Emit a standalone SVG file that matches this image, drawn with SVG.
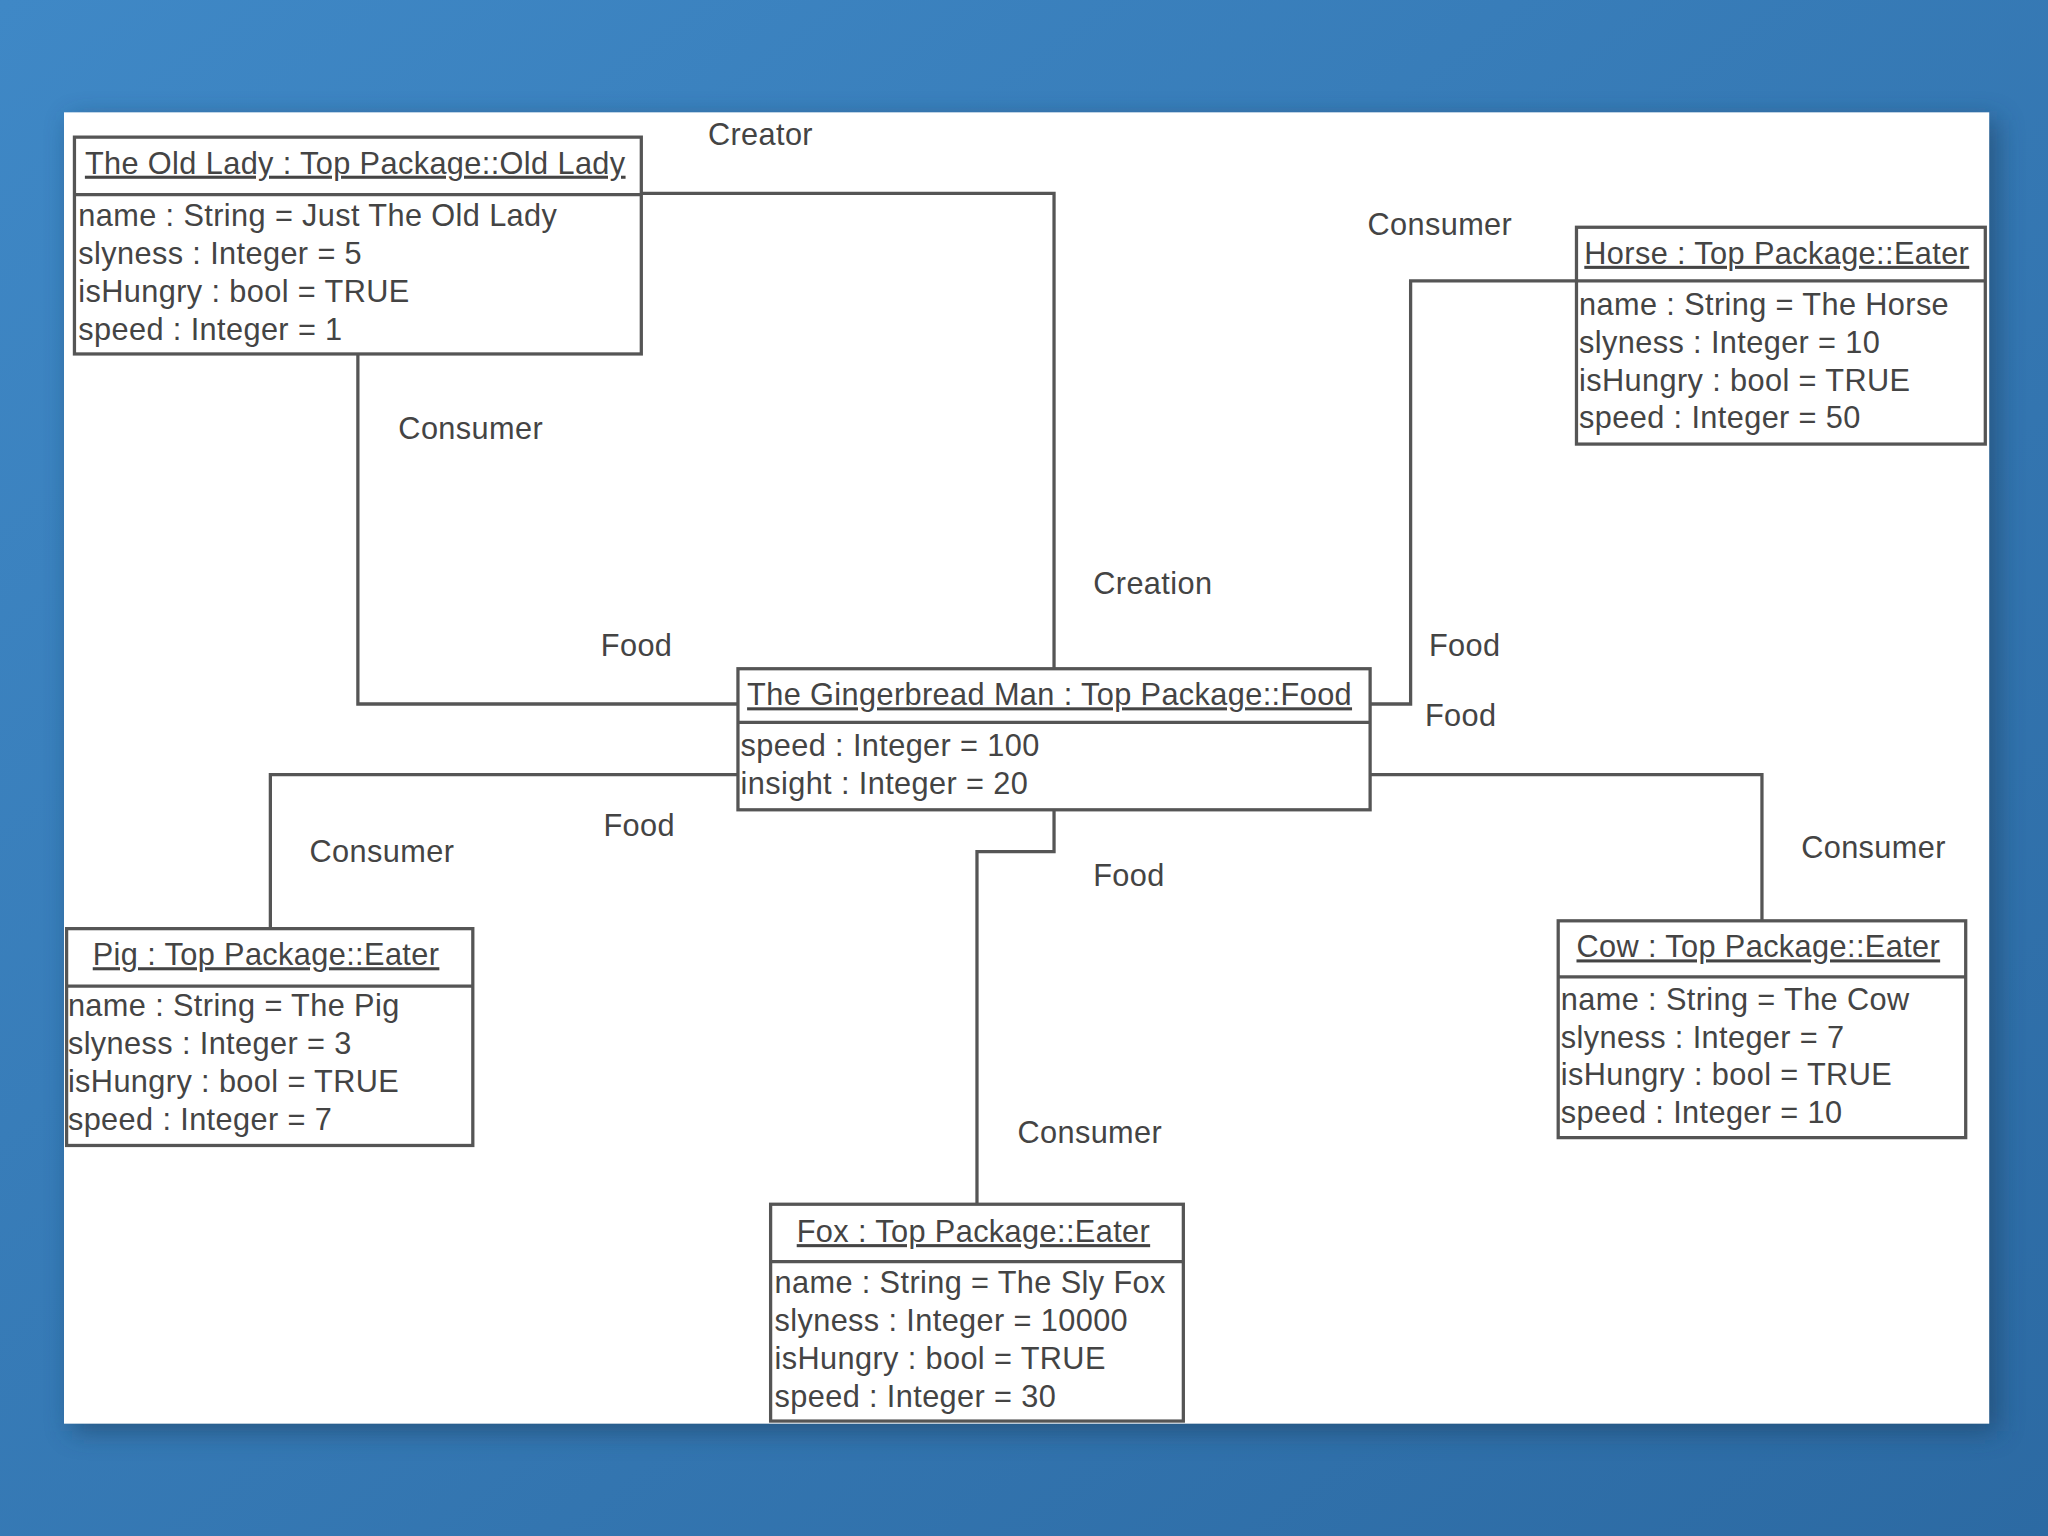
<svg xmlns="http://www.w3.org/2000/svg" width="2048" height="1536" viewBox="0 0 2048 1536">
<defs>
<linearGradient id="bg" x1="0" y1="0" x2="1" y2="1"><stop offset="0" stop-color="#3f88c6"/><stop offset="1" stop-color="#2c6aa3"/></linearGradient>
<filter id="sh" x="-5%" y="-5%" width="110%" height="115%"><feGaussianBlur stdDeviation="10"/></filter>
<style>
text{font-family:"Liberation Sans",Arial,sans-serif;font-size:23.5px;letter-spacing:0.3px;fill:#444}
.box{fill:#fff;stroke:#555;stroke-width:2.5}
.hl{stroke:#555;stroke-width:2.5}
.c{fill:none;stroke:#555;stroke-width:2.5}
.t{text-decoration:underline}
</style>
</defs>
<rect width="2048" height="1536" fill="url(#bg)"/>
<g transform="scale(1.30612)">
<rect x="55" y="92" width="1474" height="1004" fill="#1d3f60" opacity="0.6" filter="url(#sh)"/>
<rect x="49" y="86" width="1474" height="1004" fill="#fff"/>
<g id="connectors">
<polyline class="c" points="491,148 807,148 807,512"/>
<polyline class="c" points="274,271 274,539 565,539"/>
<polyline class="c" points="1207,215 1080,215 1080,539 1049,539"/>
<polyline class="c" points="207,711 207,593 565,593"/>
<polyline class="c" points="1049,593 1349,593 1349,705"/>
<polyline class="c" points="807,620 807,652 748,652 748,922"/>
<text x="542" y="111">Creator</text>
<text x="305" y="336">Consumer</text>
<text x="837" y="455">Creation</text>
<text x="460" y="502">Food</text>
<text x="1047" y="180">Consumer</text>
<text x="1094" y="502">Food</text>
<text x="1091" y="556">Food</text>
<text x="237" y="660">Consumer</text>
<text x="462" y="640">Food</text>
<text x="837" y="678">Food</text>
<text x="1379" y="657">Consumer</text>
<text x="779" y="875">Consumer</text>
</g>
<g id="oldlady">
<rect class="box" x="57" y="105" width="434" height="166"/><line class="hl" x1="57" y1="149" x2="491" y2="149"/>
<text class="t" x="65" y="133">The Old Lady : Top Package::Old Lady</text>
<text x="60" y="173">name : String = Just The Old Lady</text>
<text x="60" y="202">slyness : Integer = 5</text>
<text x="60" y="231">isHungry : bool = TRUE</text>
<text x="60" y="260">speed : Integer = 1</text>
</g>
<g id="horse">
<rect class="box" x="1207" y="174" width="313" height="166"/><line class="hl" x1="1207" y1="215" x2="1520" y2="215"/>
<text class="t" x="1213" y="202">Horse : Top Package::Eater</text>
<text x="1209" y="241">name : String = The Horse</text>
<text x="1209" y="270">slyness : Integer = 10</text>
<text x="1209" y="299">isHungry : bool = TRUE</text>
<text x="1209" y="328">speed : Integer = 50</text>
</g>
<g id="gingerbread">
<rect class="box" x="565" y="512" width="484" height="108"/><line class="hl" x1="565" y1="553" x2="1049" y2="553"/>
<text class="t" x="572" y="540">The Gingerbread Man : Top Package::Food</text>
<text x="567" y="579">speed : Integer = 100</text>
<text x="567" y="608">insight : Integer = 20</text>
</g>
<g id="pig">
<rect class="box" x="51" y="711" width="311" height="166"/><line class="hl" x1="51" y1="755" x2="362" y2="755"/>
<text class="t" x="71" y="739">Pig : Top Package::Eater</text>
<text x="52" y="778">name : String = The Pig</text>
<text x="52" y="807">slyness : Integer = 3</text>
<text x="52" y="836">isHungry : bool = TRUE</text>
<text x="52" y="865">speed : Integer = 7</text>
</g>
<g id="cow">
<rect class="box" x="1193" y="705" width="312" height="166"/><line class="hl" x1="1193" y1="748" x2="1505" y2="748"/>
<text class="t" x="1207" y="733">Cow : Top Package::Eater</text>
<text x="1195" y="773">name : String = The Cow</text>
<text x="1195" y="802">slyness : Integer = 7</text>
<text x="1195" y="831">isHungry : bool = TRUE</text>
<text x="1195" y="860">speed : Integer = 10</text>
</g>
<g id="fox">
<rect class="box" x="590" y="922" width="316" height="166"/><line class="hl" x1="590" y1="966" x2="906" y2="966"/>
<text class="t" x="610" y="951">Fox : Top Package::Eater</text>
<text x="593" y="990">name : String = The Sly Fox</text>
<text x="593" y="1019">slyness : Integer = 10000</text>
<text x="593" y="1048">isHungry : bool = TRUE</text>
<text x="593" y="1077">speed : Integer = 30</text>
</g>
</g>
</svg>
